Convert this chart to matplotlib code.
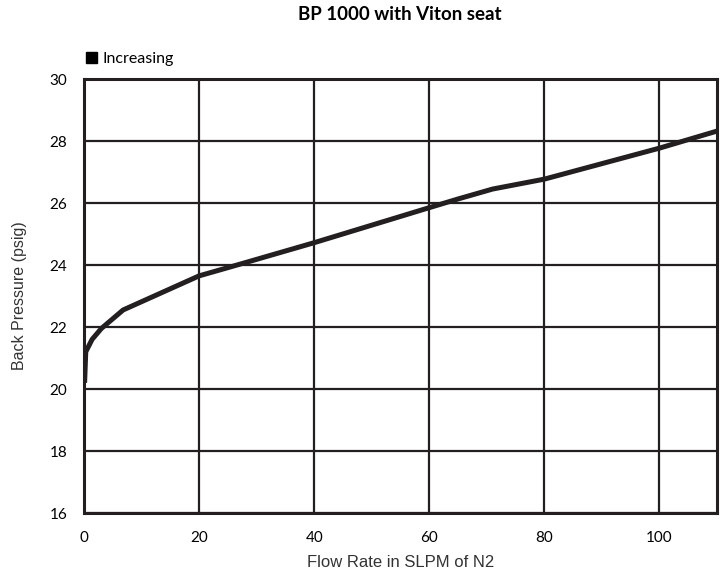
import matplotlib
matplotlib.use('Agg')
import matplotlib.pyplot as plt
from matplotlib.patches import Rectangle

plt.rcParams['font.family'] = ['Liberation Sans Narrow', 'Liberation Sans', 'DejaVu Sans']

# Data
flow = [0.1, 0.3, 1.4, 3.0, 6.8, 20.0, 26.6, 40.0, 60.0, 65.0, 71.0, 80.0, 100.0, 110.0]
pressure = [20.2, 21.2, 21.6, 21.95, 22.55, 23.65, 24.0, 24.72, 25.85, 26.13, 26.45, 26.77, 27.77, 28.32]
x_ticks = [0, 20, 40, 60, 80, 100]
y_ticks = [16, 18, 20, 22, 24, 26, 28, 30]

ink = '#231f20'

fig = plt.figure(figsize=(7.2, 5.75), dpi=100)
ax = fig.add_axes([0.1167, 0.1078, 0.8791, 0.7548])

ax.plot(flow, pressure, color=ink, linewidth=3.6, solid_capstyle='butt', zorder=3)

ax.set_xlim(0, 110)
ax.set_ylim(16, 30)
ax.set_xticks(x_ticks)
ax.set_yticks(y_ticks)
ax.grid(True, color=ink, linewidth=1.6)
ax.tick_params(length=0, labelsize=11, colors='black')
ax.tick_params(axis='x', pad=13)
ax.tick_params(axis='y', pad=12)
for lbl in ax.get_xticklabels() + ax.get_yticklabels():
    lbl.set_family(['Lato', 'DejaVu Sans'])
for s in ax.spines.values():
    s.set_color(ink)
    s.set_linewidth(2.2)

ax.set_xlabel('Flow Rate in SLPM of N2', fontsize=12, color='#333333', labelpad=7)
ax.set_ylabel('Back Pressure (psig)', fontsize=11.5, color='#333333', labelpad=16)

fig.text(0.555, 0.975, 'BP 1000 with Viton seat', ha='center', va='center',
         fontsize=13.5, fontweight='bold', family=['Lato', 'DejaVu Sans'])

# legend marker
fig.patches.append(Rectangle((86 / 720, 1 - 63 / 575), 11 / 720, 11 / 575,
                             transform=fig.transFigure, color='black', figure=fig))
fig.text(103 / 720, 1 - 59 / 575, 'Increasing', ha='left', va='center',
         fontsize=11.5, family=['Lato', 'DejaVu Sans'])

fig.savefig('out.png', dpi=100)
